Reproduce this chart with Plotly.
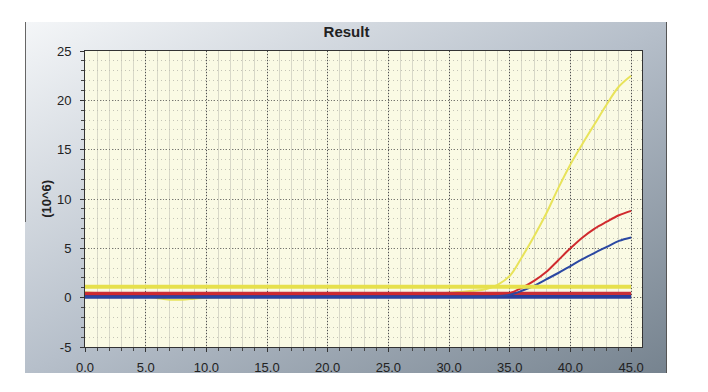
import base64
import plotly.graph_objects as go

# ---------------- data ----------------
cycles = list(range(46))
yellow_amp = [0.55, 0.45, 0.35, 0.28, 0.22, 0.15, -0.05, -0.2, -0.2, -0.1,
              0.0, 0.05, 0.05, 0.05, 0.1, 0.1, 0.1, 0.1, 0.15, 0.2,
              0.35, 0.45, 0.45, 0.42, 0.4, 0.4, 0.4, 0.42, 0.45, 0.47,
              0.5, 0.6, 0.7, 0.85, 1.3, 2.2, 4.1, 6.2, 8.5, 11.1,
              13.5, 15.6, 17.6, 19.6, 21.4, 22.5]
red_amp = [0.35] * 35 + [0.45, 1.0, 1.7, 2.6, 3.8, 5.0, 6.1, 7.0, 7.7, 8.35, 8.8]
blue_amp = [0.1] * 34 + [0.15, 0.3, 0.7, 1.2, 1.85, 2.5, 3.2, 3.9, 4.55, 5.15, 5.75, 6.1]
flat_x = [0, 45]
threshold = 1.1
red_flat = [0.42, 0.3]
blue_flat = [0.12, 0.04]

x_ticks = [0, 5, 10, 15, 20, 25, 30, 35, 40, 45]
x_tick_labels = ["0.0", "5.0", "10.0", "15.0", "20.0", "25.0", "30.0", "35.0", "40.0", "45.0"]
y_ticks = [-5, 0, 5, 10, 15, 20, 25]
y_tick_labels = ["-5", "0", "5", "10", "15", "20", "25"]

# ---------------- style ----------------
YELLOW = "#e6e04c"
RED = "#d02a2e"
BLUE = "#2a3e9c"
TXT = "#222222"
FONT = "Liberation Sans, Arial, sans-serif"

fig = go.Figure()

fig.add_trace(go.Scatter(x=cycles, y=yellow_amp, mode="lines", line_shape="spline",
                         line=dict(color="#e8e35a", width=2), showlegend=False))
for v in red_flat:
    fig.add_trace(go.Scatter(x=flat_x, y=[v, v], mode="lines",
                             line=dict(color="#c83038", width=3.5), showlegend=False))
for v in blue_flat:
    fig.add_trace(go.Scatter(x=flat_x, y=[v, v], mode="lines",
                             line=dict(color=BLUE, width=3), showlegend=False))
fig.add_trace(go.Scatter(x=cycles, y=red_amp, mode="lines", line_shape="spline",
                         line=dict(color=RED, width=2), showlegend=False))
fig.add_trace(go.Scatter(x=cycles, y=blue_amp, mode="lines", line_shape="spline",
                         line=dict(color="#2b48a2", width=2), showlegend=False))
fig.add_trace(go.Scatter(x=flat_x, y=[threshold, threshold], mode="lines",
                         line=dict(color=YELLOW, width=4), showlegend=False))

# gradient panel background as an inline SVG
svg = ("<svg xmlns='http://www.w3.org/2000/svg' width='642' height='351' viewBox='0 0 642 351' "
       "preserveAspectRatio='none'><defs><linearGradient id='g' x1='0' y1='0' x2='1' y2='1'>"
       "<stop offset='0' stop-color='#f4f6f8'/><stop offset='0.5' stop-color='#b6bfca'/>"
       "<stop offset='1' stop-color='#76838f'/></linearGradient></defs>"
       "<rect width='642' height='351' fill='url(#g)'/>"
       "<line x1='0.5' y1='0' x2='0.5' y2='200' stroke='#666' stroke-width='1'/>"
       "<line x1='641.5' y1='0' x2='641.5' y2='351' stroke='#555' stroke-width='1'/></svg>")
src = "data:image/svg+xml;base64," + base64.b64encode(svg.encode()).decode()

# page body adds an 8px offset; target pixel positions are compensated here
OFF = 8
W, H = 708 - OFF, 392 - OFF
L, T = 85 - OFF, 51 - OFF
R = W - (642 - OFF)
B = H - (347 - OFF)
pw, ph = W - L - R, H - T - B

fig.add_layout_image(dict(source=src, xref="paper", yref="paper",
                          x=(25 - 85) / pw, y=(347 - 22) / ph,
                          sizex=(667 - 25) / pw, sizey=(373 - 22) / ph,
                          xanchor="left", yanchor="top", sizing="stretch", layer="below"))
fig.add_shape(type="rect", xref="paper", yref="paper", x0=0, x1=1, y0=0, y1=1,
              fillcolor="#fafae4", line=dict(width=0), layer="below")

fig.update_layout(
    width=W, height=H,
    margin=dict(l=L, r=R, t=T, b=B, autoexpand=False),
    paper_bgcolor="white", plot_bgcolor="#fafae4",
    font=dict(family=FONT, color=TXT),
    title=dict(text="<b>Result</b>", x=(346.5 - OFF) / W, xanchor="center", xref="container",
               y=1 - (31.5 - OFF) / H, yanchor="middle", yref="container",
               font=dict(size=15, color=TXT, family=FONT)),
    xaxis=dict(range=[0, 45.9], tickmode="array", tickvals=x_ticks, ticktext=x_tick_labels,
               showgrid=True, gridcolor="#505050", griddash="1px,2px", gridwidth=1,
               ticks="outside", ticklen=4, tickcolor="#333", ticklabelstandoff=4,
               showline=True, linecolor="#333", linewidth=1, mirror=True, zeroline=False,
               tickfont=dict(size=13, color=TXT, family=FONT),
               minor=dict(tickmode="linear", tick0=0, dtick=1, showgrid=True,
                          gridcolor="#d8d8c8", griddash="solid", gridwidth=1,
                          ticks="outside", ticklen=3, tickcolor="#444")),
    yaxis=dict(range=[-5, 25], tickmode="array", tickvals=y_ticks, ticktext=y_tick_labels,
               showgrid=True, gridcolor="#777770", griddash="1px,2px", gridwidth=1,
               ticks="outside", ticklen=4, tickcolor="#333", ticklabelstandoff=6,
               showline=True, linecolor="#333", linewidth=1, mirror=True, zeroline=False,
               tickfont=dict(size=13, color=TXT, family=FONT),
               minor=dict(tickmode="linear", tick0=-5, dtick=1, showgrid=True,
                          gridcolor="#c4c4b6", griddash="1px,3px", gridwidth=1,
                          ticks="outside", ticklen=3, tickcolor="#444")),
    annotations=[dict(text="<b>(10^6)</b>", xref="paper", yref="paper",
                      x=(45.8 - 85) / pw, y=0.5, xanchor="center", yanchor="middle",
                      textangle=-90, showarrow=False,
                      font=dict(size=13, color=TXT, family=FONT))],
)

fig.write_html("out.html")
